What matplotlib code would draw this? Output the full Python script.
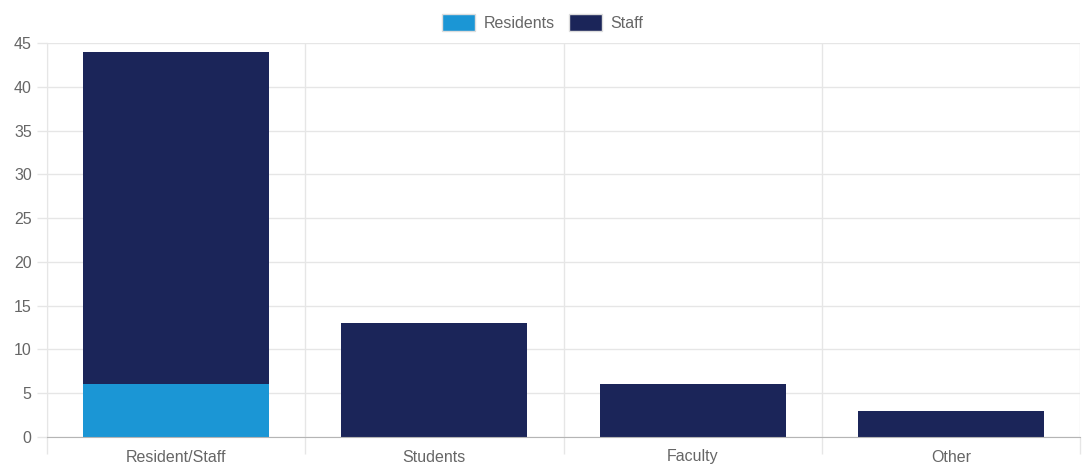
import numpy as np
import matplotlib.pyplot as plt
from matplotlib.patches import Patch

categories = ['Resident/Staff', 'Students', 'Faculty', 'Other']
residents = [6, 0, 0, 0]
staff = [38, 13, 6, 3]

c_res = '#1b96d5'
c_staff = '#1b2559'
grid_c = '#e6e6e6'
text_c = '#666666'

plt.rcParams['font.family'] = ['Liberation Sans', 'DejaVu Sans']

fig = plt.figure(figsize=(10.85, 4.66), dpi=100)
ax = fig.add_axes([47 / 1085, 1 - 437 / 466, (1080 - 47) / 1085, (437 - 43) / 466])

x = np.arange(len(categories))
ax.bar(x, residents, width=0.72, color=c_res, label='Residents', zorder=3)
ax.bar(x, staff, width=0.72, bottom=residents, color=c_staff, label='Staff', zorder=3)

ax.set_xlim(-0.5, 3.5)
ax.set_ylim(0, 45)
ax.set_yticks(range(0, 46, 5))
ax.set_xticks(x)
ax.set_xticklabels(categories)

# vertical grid between categories
ax.set_xticks(np.arange(-0.5, 4, 1), minor=True)
ax.grid(True, which='minor', axis='x', color=grid_c, linewidth=1, zorder=0)
ax.grid(True, which='major', axis='y', color=grid_c, linewidth=1, zorder=0)

ax.tick_params(axis='x', which='major', length=0, pad=9, labelsize=11.5, labelcolor=text_c)
ax.tick_params(axis='x', which='minor', length=12, color=grid_c, width=1)
ax.tick_params(axis='y', length=7, color=grid_c, width=1, pad=4, labelsize=11.5, labelcolor=text_c)

for s in ['top', 'right']:
    ax.spines[s].set_visible(False)
ax.spines['left'].set_color(grid_c)
ax.spines['bottom'].set_color('#b5b5b5')
ax.spines['bottom'].set_zorder(4)

handles = [Patch(facecolor=c_res, edgecolor='#dddddd', label='Residents'),
           Patch(facecolor=c_staff, edgecolor='#dddddd', label='Staff')]
fig.legend(handles=handles, loc='upper center', bbox_to_anchor=(0.5, 1.0), ncol=2,
           frameon=False, fontsize=11.5, handlelength=2.1, handleheight=1.2,
           columnspacing=0.9, handletextpad=0.5, labelcolor=text_c)

fig.savefig('out.png', dpi=100)
